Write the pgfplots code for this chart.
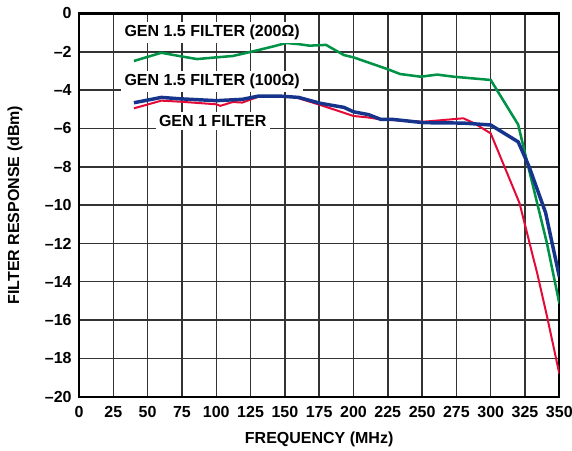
\documentclass[border=0pt]{standalone}
\usepackage{fontspec}
\setmainfont{Liberation Sans}
\usepackage{pgfplots}
\pgfplotsset{compat=1.18}
\usetikzlibrary{calc}
\definecolor{cgreen}{RGB}{0,146,70}
\definecolor{cblue}{RGB}{22,52,140}
\definecolor{cred}{RGB}{228,10,55}
\begin{document}
\begin{tikzpicture}
\begin{axis}[
  scale only axis,
  width=360.2pt, height=287.4pt,
  xmin=0, xmax=350, ymin=-20, ymax=0,
  xtick={0,25,...,350},
  ytick={-20,-18,...,0},
  yticklabels={--20,--18,--16,--14,--12,--10,--8,--6,--4,--2,0},
  /pgf/number format/assume math mode=true,
  tick label style={font=\fontsize{12}{14}\selectfont\bfseries},
  xticklabel style={yshift=-4pt},
  yticklabel style={xshift=-2pt},
  major tick length=0pt,
  grid=major,
  major grid style={line width=1.1pt, color=black!80},
  axis line style={line width=1.6pt, black},
  xlabel={FREQUENCY (MHz)},
  ylabel={FILTER RESPONSE (dBm)},
  label style={font=\fontsize{12}{14}\selectfont\bfseries},
  xlabel style={at={(axis description cs:0.5,-0.110)}, anchor=center},
  ylabel style={at={(axis description cs:-0.1333,0.5)}, anchor=center, rotate=0},
  clip=true,
]
\addplot[cgreen, line width=1.9pt] coordinates {
(40,-2.48) (60,-2.05) (73,-2.22) (86,-2.38) (100,-2.29) (112,-2.22)
(126,-1.99) (141,-1.73) (151,-1.54) (160,-1.60) (168,-1.68) (180,-1.64)
(193,-2.17) (200,-2.29) (225,-2.91) (234,-3.16) (249,-3.30) (261,-3.19)
(273,-3.30) (300,-3.47) (320,-5.8) (325,-7.3) (341,-12.0) (350,-15.13)
};
\addplot[cred, line width=1.5pt] coordinates {
(40,-4.95) (60,-4.55) (73,-4.60) (100,-4.74) (103,-4.82) (112,-4.62)
(119,-4.65) (132,-4.31) (146,-4.31) (158,-4.38) (176,-4.78) (200,-5.35)
(210,-5.42) (220,-5.53) (251,-5.65) (280,-5.47) (288,-5.73) (300,-6.26)
(321,-9.9) (334,-13.6) (341,-15.8) (350,-18.8)
};
\addplot[cblue, line width=2.6pt] coordinates {
(40,-4.66) (60,-4.38) (73,-4.45) (100,-4.55) (119,-4.48) (131,-4.31)
(146,-4.31) (160,-4.38) (176,-4.69) (193,-4.90) (200,-5.13) (211,-5.28)
(220,-5.53) (229,-5.53) (251,-5.70) (280,-5.72) (300,-5.82) (320,-6.7)
(328,-8.0) (340,-10.4) (350,-13.74)
};
\coordinate (SW) at (rel axis cs:0,0);
\coordinate (NE) at (rel axis cs:1,1);
\begin{scope}[every node/.style={fill=white, inner sep=2.5pt, font=\fontsize{12}{14}\selectfont\bfseries}]
\node at (axis cs:97,-1.0) {GEN 1.5 FILTER (200Ω)};
\node at (axis cs:97,-3.56) {GEN 1.5 FILTER (100Ω)};
\node at (axis cs:97.4,-5.61) {GEN 1 FILTER};
\end{scope}
\end{axis}
\pgfresetboundingbox
\useasboundingbox ($(SW)+(-59.25pt,-40.7pt)$) rectangle ($(NE)+(9.5pt,10.1pt)$);
\end{tikzpicture}
\end{document}
